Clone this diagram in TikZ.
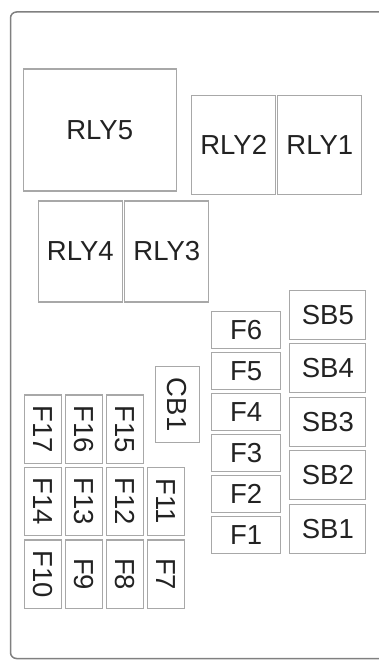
\documentclass[tikz,border=0pt]{standalone}
\usepackage{fontspec}
\setmainfont{Liberation Sans}
\usepackage{tikz}
\usetikzlibrary{positioning}
\usepackage{xcolor}
\definecolor{framegray}{HTML}{808080}
\definecolor{boxgray}{HTML}{A8A8A8}
\definecolor{labelgray}{HTML}{222222}

\begin{document}
\begin{tikzpicture}[
    x=1pt,y=-1pt,
    box/.style={rectangle,draw=boxgray,line width=1.1pt,inner sep=0pt,text=labelgray,
      font=\fontsize{27.5}{30}\selectfont},
    rly/.style={box,minimum width=84pt,minimum height=100pt},
    fuse/.style={box,minimum width=69pt,minimum height=37pt},
    sb/.style={box,minimum width=76pt,minimum height=49pt},
    vfuse/.style={box,rotate=-90,minimum width=68.5pt,minimum height=37pt}
  ]
    \useasboundingbox (0,0) rectangle (379,660);
    \clip (0,0) rectangle (379,660);
    \draw[framegray,line width=1.5pt,rounded corners=6pt] (10.5,12) rectangle (420,658.5);
    % relays
    \node[box,minimum width=152.7pt,minimum height=122pt] (rly5) at (99.7,130) {RLY5};
    \node[rly,minimum height=99pt] (rly2) at (233.7,144.7) {RLY2};
    \node[rly,minimum height=99pt] (rly1) at (319.8,144.7) {RLY1};
    \node[rly,minimum height=101pt] (rly4) at (80.3,251.5) {RLY4};
    \node[rly,minimum height=101pt] (rly3) at (166.8,251.5) {RLY3};
    % fuses, right column
    \node[fuse] (f6) at (246.2,330.3) {F6};
    \node[fuse] (f5) at (246.2,371.2) {F5};
    \node[fuse] (f4) at (246.2,412.2) {F4};
    \node[fuse] (f3) at (246.2,453) {F3};
    \node[fuse] (f2) at (246.2,494) {F2};
    \node[fuse] (f1) at (246.2,534.7) {F1};
    \node[sb] (sb5) at (327.8,314.7) {SB5};
    \node[sb] (sb4) at (327.8,367.8) {SB4};
    \node[sb] (sb3) at (327.8,421.7) {SB3};
    \node[sb] (sb2) at (327.8,475.3) {SB2};
    \node[sb] (sb1) at (327.8,528.7) {SB1};
    % fuses, left block
    \node[vfuse,minimum width=76pt,minimum height=44.3pt] (cb1) at (177.2,404.7) {CB1};
    \node[vfuse] (f17) at (42.8,429.2) {F17};
    \node[vfuse] (f16) at (83.7,429.2) {F16};
    \node[vfuse] (f15) at (124.7,429.2) {F15};
    \node[vfuse] (f14) at (42.8,501.3) {F14};
    \node[vfuse] (f13) at (83.7,501.3) {F13};
    \node[vfuse] (f12) at (124.7,501.3) {F12};
    \node[vfuse] (f11) at (166,501.3) {F11};
    \node[vfuse] (f10) at (42.8,574.2) {F10};
    \node[vfuse] (f9) at (83.7,574.2) {F9};
    \node[vfuse] (f8) at (124.7,574.2) {F8};
    \node[vfuse] (f7) at (166,574.2) {F7};
  \end{tikzpicture}
\end{document}
